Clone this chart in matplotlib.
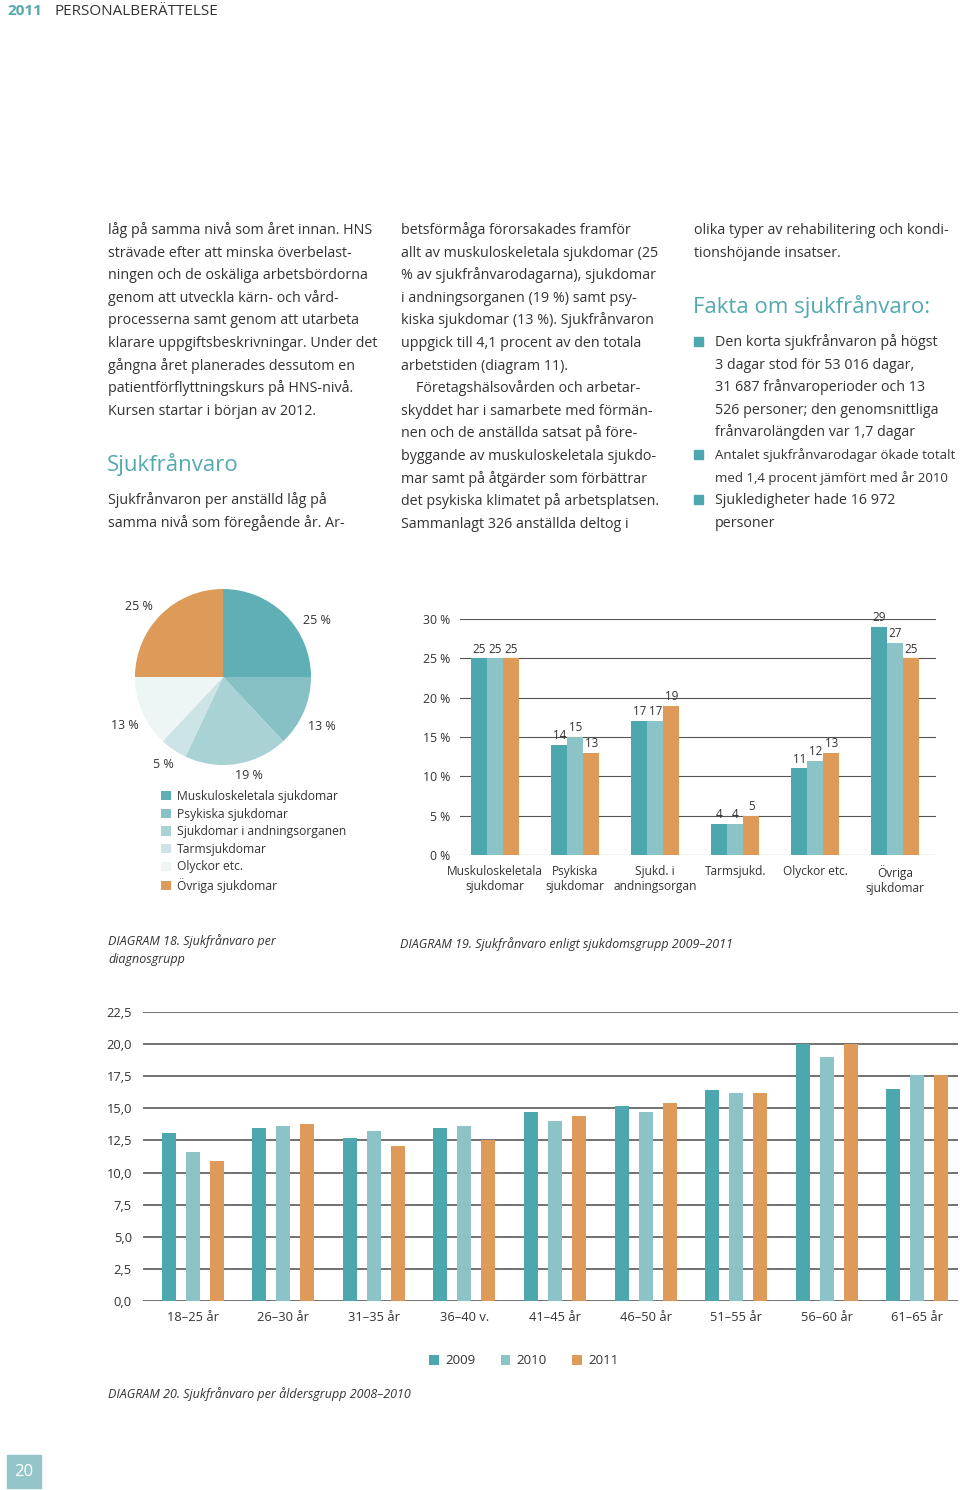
import matplotlib
matplotlib.use('Agg')
import matplotlib.pyplot as plt
from matplotlib.patches import Rectangle
import numpy as np

W, H = 960, 1490
plt.rcParams['font.family'] = ['Open Sans', 'DejaVu Sans']

TEAL = '#4ca8ae'
LTEAL = '#8cc3c6'
ORANGE = '#dd9a58'
TEXT = '#333333'
HEAD = '#52a9ae'
GRID = '#555555'

# ---------------- data ----------------
pie_labels = ['Muskuloskeletala sjukdomar', 'Psykiska sjukdomar',
              'Sjukdomar i andningsorganen', 'Tarmsjukdomar',
              'Olyckor etc.', 'Övriga sjukdomar']
pie_values = [25, 13, 19, 5, 13, 25]
pie_colors = ['#5fb0b5', '#88c1c5', '#a9d2d4', '#cce4e5', '#edf5f5', '#dd9a58']

diag_categories = ['Muskuloskeletala\nsjukdomar', 'Psykiska\nsjukdomar',
                   'Sjukd. i\nandningsorgan', 'Tarmsjukd.', 'Olyckor etc.',
                   'Övriga\nsjukdomar']
diag_2009 = [25, 14, 17, 4, 11, 29]
diag_2010 = [25, 15, 17, 4, 12, 27]
diag_2011 = [25, 13, 19, 5, 13, 25]
diag_ticks = [0, 5, 10, 15, 20, 25, 30]
diag_ticklabels = ['0 %', '5 %', '10 %', '15 %', '20 %', '25 %', '30 %']

age_groups = ['18–25 år', '26–30 år', '31–35 år', '36–40 v.', '41–45 år',
              '46–50 år', '51–55 år', '56–60 år', '61–65 år']
age_2009 = [13.1, 13.5, 12.7, 13.5, 14.7, 15.2, 16.4, 20.0, 16.5]
age_2010 = [11.6, 13.6, 13.2, 13.6, 14.0, 14.7, 16.2, 19.0, 17.6]
age_2011 = [10.9, 13.8, 12.1, 12.5, 14.4, 15.4, 16.2, 20.0, 17.6]
age_ticks = [0, 2.5, 5, 7.5, 10, 12.5, 15, 17.5, 20, 22.5]
age_ticklabels = ['0,0', '2,5', '5,0', '7,5', '10,0', '12,5', '15,0',
                  '17,5', '20,0', '22,5']
years = ['2009', '2010', '2011']

col1 = ['låg på samma nivå som året innan. HNS',
        'strävade efter att minska överbelast-',
        'ningen och de oskäliga arbetsbördorna',
        'genom att utveckla kärn- och vård-',
        'processerna samt genom att utarbeta',
        'klarare uppgiftsbeskrivningar. Under det',
        'gångna året planerades dessutom en',
        'patientförflyttningskurs på HNS-nivå.',
        'Kursen startar i början av 2012.']
col1b = ['Sjukfrånvaron per anställd låg på',
         'samma nivå som föregående år. Ar-']
col2 = ['betsförmåga förorsakades framför',
        'allt av muskuloskeletala sjukdomar (25',
        '% av sjukfrånvarodagarna), sjukdomar',
        'i andningsorganen (19 %) samt psy-',
        'kiska sjukdomar (13 %). Sjukfrånvaron',
        'uppgick till 4,1 procent av den totala',
        'arbetstiden (diagram 11).',
        '    Företagshälsovården och arbetar-',
        'skyddet har i samarbete med förmän-',
        'nen och de anställda satsat på före-',
        'byggande av muskuloskeletala sjukdo-',
        'mar samt på åtgärder som förbättrar',
        'det psykiska klimatet på arbetsplatsen.',
        'Sammanlagt 326 anställda deltog i']
col3 = ['olika typer av rehabilitering och kondi-',
        'tionshöjande insatser.']
bullets = [['Den korta sjukfrånvaron på högst',
            '3 dagar stod för 53 016 dagar,',
            '31 687 frånvaroperioder och 13',
            '526 personer; den genomsnittliga',
            'frånvarolängden var 1,7 dagar'],
           ['Antalet sjukfrånvarodagar ökade totalt',
            'med 1,4 procent jämfört med år 2010'],
           ['Sjukledigheter hade 16 972',
            'personer']]
bullet_sizes = [10.3, 9.55, 10.3]

# ---------------- figure ----------------
fig = plt.figure(figsize=(W / 100, H / 100), dpi=100)
fig.patch.set_facecolor('white')


def ft(x, y, s, **kw):
    return fig.text(x / W, 1 - y / H, s, **kw)


BODY = 10.3
LS = 22.6

# header
ft(7, 15, '2011', fontsize=11, fontweight='bold', color=HEAD, va='baseline')
ft(55, 15, 'PERSONALBERÄTTELSE', fontsize=11, color='#333333', va='baseline')

# column 1
for i, s in enumerate(col1):
    ft(108, 234 + i * LS, s, fontsize=BODY, color=TEXT, va='baseline')
ft(107, 471, 'Sjukfrånvaro', fontsize=16, color=HEAD, va='baseline')
for i, s in enumerate(col1b):
    ft(108, 504 + i * LS, s, fontsize=BODY, color=TEXT, va='baseline')

# column 2
for i, s in enumerate(col2):
    ft(401, 234 + i * LS, s, fontsize=BODY, color=TEXT, va='baseline')

# column 3
for i, s in enumerate(col3):
    ft(694, 234 + i * LS, s, fontsize=BODY, color=TEXT, va='baseline')
ft(693, 313, 'Fakta om sjukfrånvaro:', fontsize=16, color=HEAD, va='baseline')
row = 0
for b, fs in zip(bullets, bullet_sizes):
    yb = 341 + row * LS
    fig.patches.append(Rectangle((694 / W, 1 - (yb + 5) / H), 9 / W, 9 / H,
                                 transform=fig.transFigure, color=TEAL))
    for s in b:
        ft(715, 346 + row * LS, s, fontsize=fs, color=TEXT, va='baseline')
        row += 1

# ---------------- pie (diagram 18) ----------------
ax1 = fig.add_axes([135 / W, 1 - 765 / H, 176 / W, 176 / H])
wedges, _, autotexts = ax1.pie(pie_values, colors=pie_colors, startangle=90,
                               counterclock=False, radius=1,
                               autopct=lambda p: f'{p:.0f} %',
                               pctdistance=1.24,
                               wedgeprops=dict(linewidth=0),
                               textprops=dict(fontsize=9, color=TEXT))
# fine placement of the percent labels (angle shift in degrees, radius)
label_shift = [-14, -3, 6, 0, 3, 5]
label_radius = [1.25, 1.26, 1.16, 1.2, 1.25, 1.25]
for w, t, sh, r in zip(wedges, autotexts, label_shift, label_radius):
    ang = np.deg2rad((w.theta1 + w.theta2) / 2 + sh)
    t.set_position((r * np.cos(ang), r * np.sin(ang)))
ax1.set_xlim(-1, 1)
ax1.set_ylim(-1, 1)
ax1.set_aspect('equal')
ax1.axis('off')
ax1.legend(wedges, pie_labels, loc='upper left',
           bbox_to_anchor=(161 / W, 1 - 790 / H), bbox_transform=fig.transFigure,
           frameon=False, fontsize=8.7, handlelength=0.8, handleheight=0.8,
           handletextpad=0.5, labelspacing=0.38, borderpad=0, borderaxespad=0,
           labelcolor=TEXT)

ft(108, 945, 'DIAGRAM 18. Sjukfrånvaro per', fontsize=9, style='italic',
   color=TEXT, va='baseline')
ft(108, 963, 'diagnosgrupp', fontsize=9, style='italic', color=TEXT,
   va='baseline')

# ---------------- diagram 19 ----------------
ax2 = fig.add_axes([460 / W, 1 - 855 / H, 476 / W, 236 / H])
x = np.arange(len(diag_categories))
bw = 0.2
for k, (vals, c) in enumerate(zip([diag_2009, diag_2010, diag_2011],
                                  [TEAL, LTEAL, ORANGE])):
    bars = ax2.bar(x + (k - 1) * bw, vals, bw, color=c, zorder=3)
    ax2.bar_label(bars, padding=2, fontsize=8.4, color=TEXT)
ax2.set_xlim(-0.44, 5.51)
ax2.set_ylim(0, 30)
ax2.set_yticks(diag_ticks)
ax2.set_yticklabels(diag_ticklabels, fontsize=8.8, color=TEXT)
ax2.set_xticks(x)
ax2.set_xticklabels(diag_categories, fontsize=8.6, color=TEXT, linespacing=1.2)
ax2.yaxis.grid(True, color=GRID, lw=0.8, zorder=0)
ax2.set_axisbelow(True)
for sp in ax2.spines.values():
    sp.set_visible(False)
ax2.tick_params(axis='both', length=0)
ax2.tick_params(axis='y', pad=7)
ax2.tick_params(axis='x', pad=7.5)

ft(400, 948, 'DIAGRAM 19. Sjukfrånvaro enligt sjukdomsgrupp 2009–2011',
   fontsize=9, style='italic', color=TEXT, va='baseline')

# ---------------- diagram 20 ----------------
ax3 = fig.add_axes([143 / W, 1 - 1301 / H, 815 / W, 289 / H])
xa = np.arange(len(age_groups))
bw2 = 0.155
off = 0.265
handles = []
for k, (vals, c) in enumerate(zip([age_2009, age_2010, age_2011],
                                  [TEAL, LTEAL, ORANGE])):
    b = ax3.bar(xa + (k - 1) * off, vals, bw2, color=c, zorder=3, label=years[k])
    handles.append(b)
ax3.set_xlim(-0.55, 8.45)
ax3.set_ylim(0, 22.5)
ax3.set_yticks(age_ticks)
ax3.set_yticklabels(age_ticklabels, fontsize=9.3, color=TEXT)
ax3.set_xticks(xa)
ax3.set_xticklabels(age_groups, fontsize=9.3, color=TEXT)
ax3.yaxis.grid(True, color='#4a4a4a', lw=1.1, zorder=0)
ax3.set_axisbelow(True)
for sp in ax3.spines.values():
    sp.set_visible(False)
ax3.tick_params(axis='both', length=0)
ax3.tick_params(axis='y', pad=8)
ax3.tick_params(axis='x', pad=7)
ax3.legend(handles=handles, loc='center',
           bbox_to_anchor=(524 / W, 1 - 1361 / H), bbox_transform=fig.transFigure,
           ncol=3, frameon=False, fontsize=9.6, handlelength=0.7,
           handleheight=0.7, handletextpad=0.5, columnspacing=1.9,
           labelcolor=TEXT)

ft(108, 1398, 'DIAGRAM 20. Sjukfrånvaro per åldersgrupp 2008–2010',
   fontsize=9, style='italic', color=TEXT, va='baseline')

# page number
fig.patches.append(Rectangle((7 / W, 1 - 1488 / H), 34 / W, 33 / H,
                             transform=fig.transFigure, color='#94c6c9'))
ft(24, 1472, '20', fontsize=12, color='white', ha='center', va='center')

fig.savefig('out.png', dpi=100)
